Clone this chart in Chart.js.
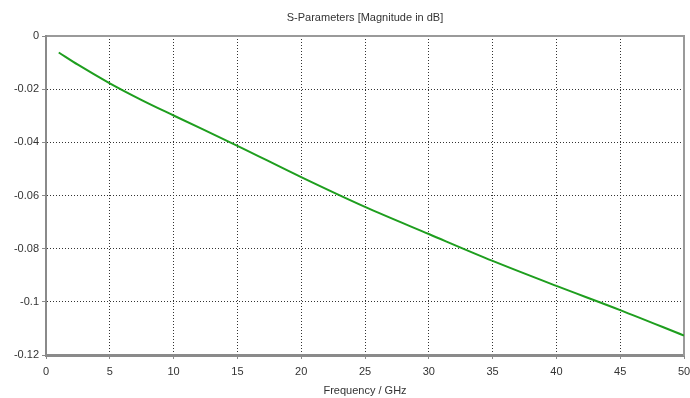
<!DOCTYPE html>
<html>
<head>
<meta charset="utf-8">
<script src="https://cdn.jsdelivr.net/npm/chart.js@4/dist/chart.umd.min.js"></script>
<style>
  html, body { margin: 0; padding: 0; background: #fff; }
  canvas { display: block; }
</style>
</head>
<body>
<canvas id="sparams" width="690" height="398"></canvas>
<script>
// S11 magnitude sweep (dB) vs frequency (GHz)
const freqGHz = [1, 2.5, 5, 7.5, 10, 15, 20, 25, 30, 35, 40, 45, 50];
const magDb = [-0.0062, -0.0108, -0.0178, -0.0241, -0.0299, -0.0413, -0.0531, -0.0643,
  -0.0745, -0.0846, -0.0940, -0.1031, -0.1127];

const xTicks = [0, 5, 10, 15, 20, 25, 30, 35, 40, 45, 50];
const yTicks = [0, -0.02, -0.04, -0.06, -0.08, -0.1, -0.12];

const chartTitle = 'S-Parameters [Magnitude in dB]';
const xTitle = 'Frequency / GHz';

const FONT = { family: '"Liberation Sans", Arial, sans-serif', size: 11 };
const TEXT = '#333';
const GRID = '#333';
const AXIS = '#8a8a8a';
const FRAME = '#9a9a9a';

// hide the grid line that sits on the frame edges
const innerGrid = (ctx) => {
  const n = ctx.scale.ticks.length;
  return (ctx.index === 0 || ctx.index === n - 1) ? 'rgba(0,0,0,0)' : GRID;
};

const ctx = document.getElementById('sparams').getContext('2d');
new Chart(ctx, {
  type: 'line',
  data: {
    datasets: [{
      data: freqGHz.map((f, i) => ({ x: f, y: magDb[i] })),
      borderColor: '#1e9e1e',
      borderWidth: 2,
      pointRadius: 0,
      cubicInterpolationMode: 'monotone',
      fill: false
    }]
  },
  options: {
    responsive: false,
    animation: false,
    layout: { padding: 0 },
    plugins: {
      legend: { display: false },
      tooltip: { enabled: false },
      title: { display: false }
    },
    scales: {
      x: {
        type: 'linear',
        position: 'bottom',
        min: 0,
        max: 50,
        afterBuildTicks: (s) => { s.ticks = xTicks.map(v => ({ value: v })); },
        afterFit: (s) => {
          s.height = 43;
          // the last label may hang over the frame edge
          s.paddingLeft = 0;
          s.paddingRight = 0;
        },
        ticks: { font: FONT, color: TEXT, padding: 6, maxRotation: 0, autoSkip: false },
        grid: {
          color: innerGrid,
          lineWidth: 1,
          tickLength: 4,
          tickColor: AXIS,
          tickBorderDash: []
        },
        border: { display: true, color: AXIS, width: 3, dash: [1, 2] },
        title: { display: true, text: xTitle, font: FONT, color: TEXT, padding: { top: 6, bottom: 0 } }
      },
      xTop: {
        type: 'linear',
        position: 'top',
        min: 0,
        max: 50,
        afterFit: (s) => { s.height = 36; },
        ticks: { display: false },
        grid: { display: false, drawTicks: false },
        border: { display: true, color: FRAME, width: 2 },
        title: { display: true, text: chartTitle, font: FONT, color: TEXT, padding: { top: 11, bottom: 0 } }
      },
      y: {
        type: 'linear',
        position: 'left',
        min: -0.12,
        max: 0,
        afterBuildTicks: (s) => { s.ticks = yTicks.map(v => ({ value: v })); },
        afterFit: (s) => { s.width = 46; },
        ticks: {
          font: FONT,
          color: TEXT,
          padding: 3,
          autoSkip: false,
          callback: (v) => String(Math.round(v * 100) / 100)
        },
        grid: {
          color: innerGrid,
          lineWidth: 1,
          tickLength: 4,
          tickColor: AXIS,
          tickBorderDash: []
        },
        border: { display: true, color: AXIS, width: 2, dash: [1, 2] }
      },
      yRight: {
        type: 'linear',
        position: 'right',
        min: -0.12,
        max: 0,
        afterFit: (s) => { s.width = 6; },
        ticks: { display: false },
        grid: { display: false, drawTicks: false },
        border: { display: true, color: FRAME, width: 2 }
      }
    }
  }
});
</script>
</body>
</html>
